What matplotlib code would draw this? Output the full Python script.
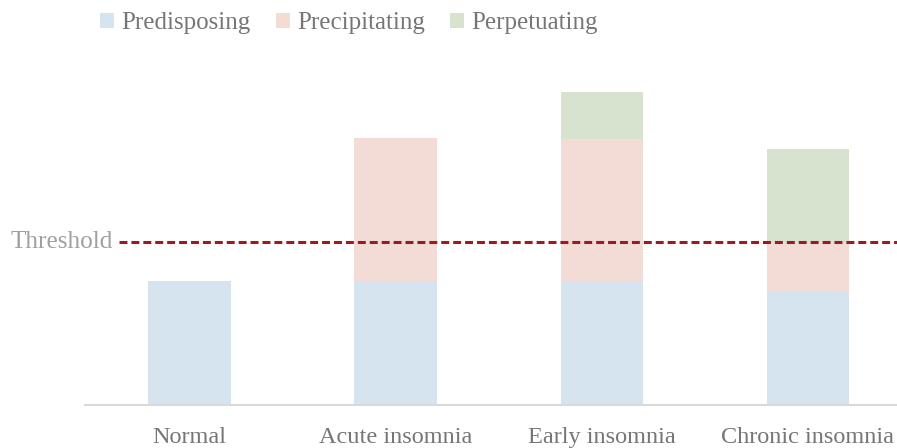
import matplotlib.pyplot as plt
import numpy as np

plt.rcParams['font.family'] = ['Liberation Serif', 'DejaVu Serif']

# Data (arbitrary units)
categories = ['Normal', 'Acute insomnia', 'Early insomnia', 'Chronic insomnia']
predisposing = [124, 124, 124, 114]
precipitating = [0, 143, 142, 48]
perpetuating = [0, 0, 47, 94]
threshold = 163

colors = ['#d6e4ef', '#f3dcd5', '#d8e3cf']
text_grey = '#767676'

fig = plt.figure(figsize=(8.97, 4.48), dpi=100)
ax = fig.add_axes([85 / 897, 1 - 405 / 448, 812 / 897, 345 / 448])

x = np.arange(len(categories))
w = 0.40
b1 = ax.bar(x, predisposing, w, color=colors[0], label='Predisposing')
b2 = ax.bar(x, precipitating, w, bottom=predisposing, color=colors[1], label='Precipitating')
bottom3 = np.array(predisposing) + np.array(precipitating)
b3 = ax.bar(x, perpetuating, w, bottom=bottom3, color=colors[2], label='Perpetuating')

ax.set_xlim(-0.507, 3.432)
ax.set_ylim(0, 345)

# threshold line
ax.plot([-0.342, 3.432], [threshold, threshold], color='#9b1c1f', lw=2.2,
        dashes=(2.6, 1.3), clip_on=False)
ax.text(-0.37, threshold, 'Threshold', ha='right', va='center', fontsize=18.2,
        color='#a0a0a0', clip_on=False)

for s in ['top', 'right', 'left']:
    ax.spines[s].set_visible(False)
ax.spines['bottom'].set_color('#d9d9d9')
ax.spines['bottom'].set_linewidth(1.5)
ax.set_yticks([])
ax.set_xticks(x)
ax.set_xticklabels(categories, fontsize=17.5, color=text_grey)
ax.tick_params(axis='x', length=0, pad=16)

fig.legend(handles=[b1, b2, b3], loc='center', bbox_to_anchor=(349 / 897, 1 - 23 / 448),
           ncol=3, frameon=False, fontsize=18, labelcolor=text_grey,
           handlelength=0.55, handleheight=0.55, handletextpad=0.3, columnspacing=1.0)

plt.savefig('out.png', dpi=100)
